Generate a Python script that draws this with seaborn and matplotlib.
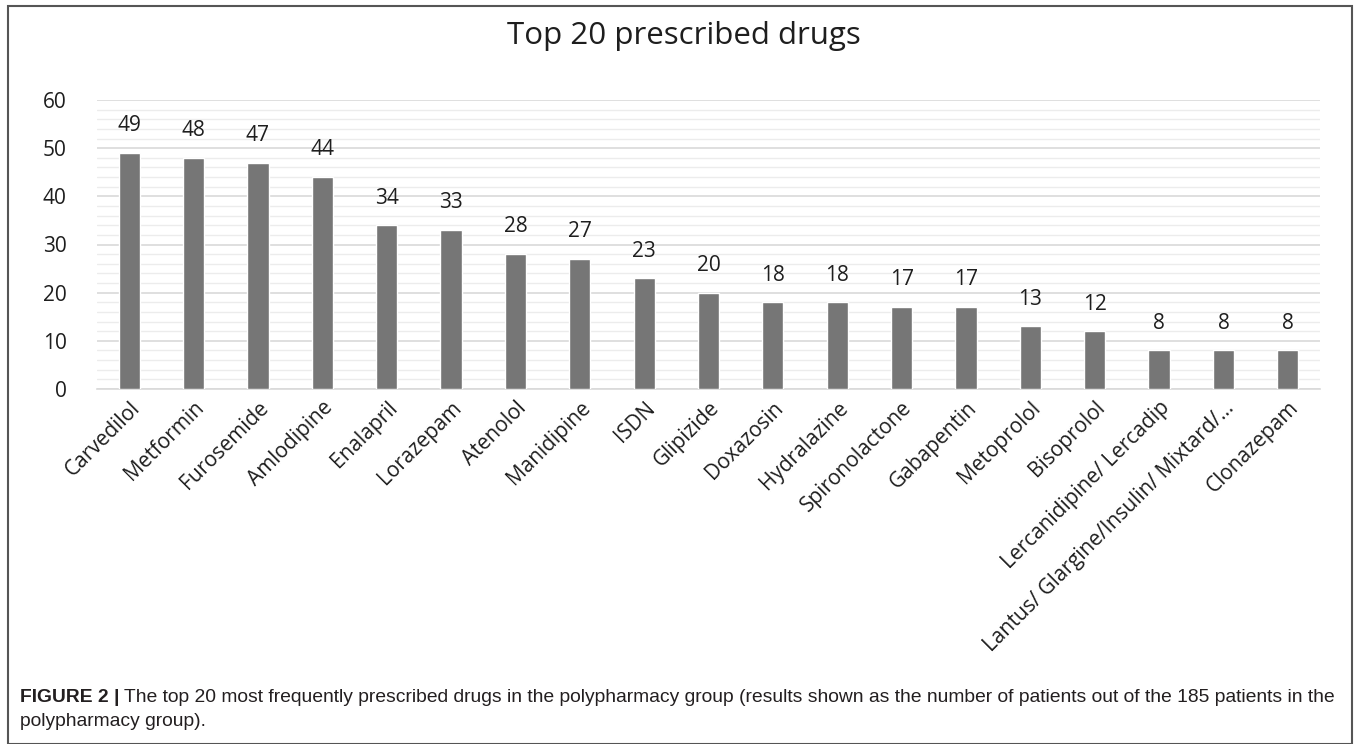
import matplotlib
matplotlib.use("Agg")
import matplotlib.pyplot as plt
import seaborn as sns
import pandas as pd
from matplotlib.ticker import MultipleLocator
from matplotlib.patches import Rectangle

drugs = ["Carvedilol", "Metformin", "Furosemide", "Amlodipine", "Enalapril", "Lorazepam",
         "Atenolol", "Manidipine", "ISDN", "Glipizide", "Doxazosin", "Hydralazine",
         "Spironolactone", "Gabapentin", "Metoprolol", "Bisoprolol",
         "Lercanidipine/ Lercadip", "Lantus/ Glargine/Insulin/ Mixtard/…", "Clonazepam"]
counts = [49, 48, 47, 44, 34, 33, 28, 27, 23, 20, 18, 18, 17, 17, 13, 12, 8, 8, 8]
title = "Top 20 prescribed drugs"
yticks = [0, 10, 20, 30, 40, 50, 60]
caption_bold = "FIGURE 2 |"
caption_line1 = ("The top 20 most frequently prescribed drugs in the polypharmacy group (results shown "
                 "as the number of patients out of the 185 patients in the")
caption_line2 = "polypharmacy group)."

df = pd.DataFrame({"drug": drugs, "count": counts})

sns.set_theme(style="white")
plt.rcParams['font.family'] = ['Open Sans', 'DejaVu Sans']

TXT = "#1e1e1e"
fig = plt.figure(figsize=(13.6, 7.44), dpi=100)
W, H = 1360, 744
ax = fig.add_axes([97 / W, 1 - 389 / H, (1320 - 97) / W, (389 - 100) / H])

sns.barplot(data=df, x="drug", y="count", color="#767676", width=0.33,
            saturation=1, ax=ax, zorder=3)

ax.set_ylim(0, 60)
ax.set_xlim(-0.5, len(drugs) - 0.5)
ax.set_yticks(yticks)
ax.yaxis.set_minor_locator(MultipleLocator(2))
ax.grid(axis="y", which="major", color="#d9d9d9", linewidth=1.2, zorder=0)
ax.grid(axis="y", which="minor", color="#ececec", linewidth=1.0, zorder=0)
ax.set_axisbelow(True)
for s in ["top", "right", "left"]:
    ax.spines[s].set_visible(False)
ax.spines["bottom"].set_color("#d9d9d9")
ax.spines["bottom"].set_linewidth(1.2)
ax.set_xlabel("")
ax.set_ylabel("")
ax.tick_params(axis="both", which="both", length=0, colors=TXT, labelsize=15)
ax.tick_params(axis="y", pad=22)
ax.tick_params(axis="x", pad=6)
ax.set_xticks(range(len(drugs)))
ax.set_xticklabels(drugs, rotation=45, ha="right", rotation_mode="anchor", fontsize=15)

for c in ax.containers:
    ax.bar_label(c, labels=[str(v) for v in counts], padding=12, fontsize=15, color=TXT)

fig.text(684 / W, 1 - 36 / H, title, ha="center", va="center", fontsize=22.5, color=TXT)

# outer border
fig.patches.append(Rectangle((8 / W, 0), (1352 - 8) / W, 1 - 6 / H, transform=fig.transFigure,
                             fill=False, edgecolor="#555555", linewidth=1.5))

# caption (fitted so that the first line spans x=20..1338 like the reference)
cap_font = ['Liberation Sans', 'DejaVu Sans']
cs = 11.5
t1 = fig.text(20 / W, 1 - 698 / H, caption_bold, fontsize=cs, fontweight="bold",
              family=cap_font, va="center", ha="left", color="#231f20")
t2 = fig.text(0, 1 - 698 / H, caption_line1, fontsize=cs, family=cap_font,
              va="center", ha="left", color="#231f20")
t3 = fig.text(20 / W, 1 - 722 / H, caption_line2, fontsize=cs, family=cap_font,
              va="center", ha="left", color="#231f20")
fig.canvas.draw()
r = fig.canvas.get_renderer()
w_total = t1.get_window_extent(r).width + 5 + t2.get_window_extent(r).width
cs2 = cs * (1338 - 20) / w_total
for t in (t1, t2, t3):
    t.set_fontsize(cs2)
fig.canvas.draw()
bb = t1.get_window_extent(r)
t2.set_x((bb.x1 + 5) / W)

fig.savefig("out.png", dpi=100)
